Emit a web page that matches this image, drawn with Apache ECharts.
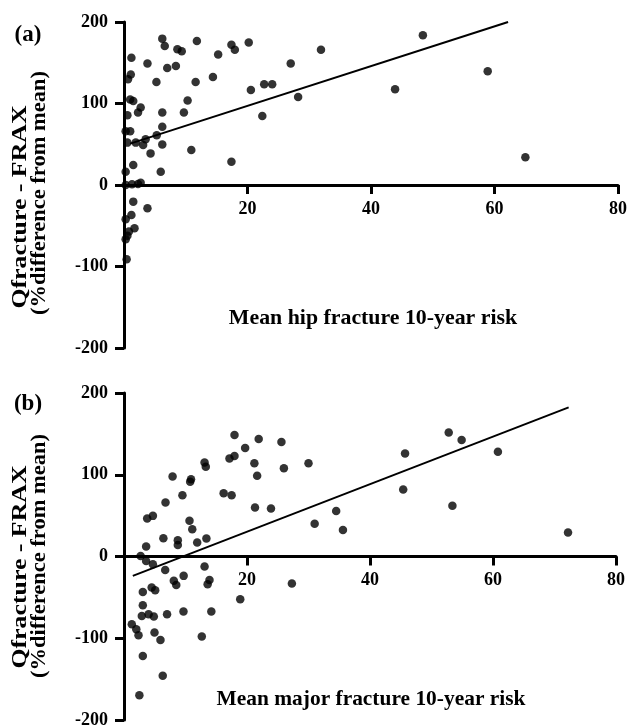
<!DOCTYPE html>
<html>
<head>
<meta charset="utf-8">
<script src="https://cdn.jsdelivr.net/npm/echarts@6/dist/echarts.min.js"></script>
<style>
html, body { margin: 0; padding: 0; background: #fff; }
#main { width: 628px; height: 728px; }
</style>
</head>
<body>
<div id="main"></div>
<script>
// axis ticks (both panels share them)
const xTicks = [0, 20, 40, 60, 80]
const yTicks = [-200, -100, 0, 100, 200]

// (a) hip fracture: mean 10-year risk vs % difference
const hipRisk = [6.2, 6.6, 8.65, 9.35, 11.8, 17.4, 17.95, 20.2, 15.25, 1.2, 3.8, 7, 8.4, 1.1, 0.65, 5.25, 11.6, 14.4, 20.55, 22.7, 24,
    1, 1.5, 2.7, 2.27, 0.55, 6.2, 10.3, 9.7, 22.4, 0.27, 1, 6.2, 5.3, 3.5, 1.9, 0.54, 3.1, 6.2, 4.3, 10.9, 17.4, 1.5, 5.95, 0.27,
    2.27, 2.7, 0.27, 1.3, 1.5, 3.8, 1.2, 0.27, 1.7, 0.8, 0.55, 0.27, 0.43, 27, 28.2, 31.9, 48.4, 43.9, 58.9, 65]
const hipDiff = [179.6, 170.6, 166.5, 164, 176.7, 172, 166, 174.7, 160, 156, 149, 143.6, 146, 135.5, 129.8, 126.5, 126.5, 132.6, 116.7, 123.7, 123.7,
    105, 103, 95, 89, 85.7, 89, 103.7, 89, 84.8, 66, 66, 71.4, 61, 56, 52, 52, 49, 49.8, 38.8, 42.8, 28.5, 24.5, 16.3, 16.3,
    1.2, 2.8, 0, 1, -20.4, -28.6, -36.7, -42, -53, -57, -62.4, -66.5, -91, 149, 108, 166, 183.7, 117.5, 139.6, 34]
const hipFitRisk = [1.0, 62.2]
const hipFitDiff = [50.8, 200]

// (b) major fracture
const majorRisk = [17.97, 21.9, 19.7, 17.15, 17.97, 21.2, 21.65, 13.1, 13.3, 7.9, 10.9, 10.76, 16.2, 17.5, 9.5, 6.75, 21.3, 23.9,
    3.77, 4.7, 10.65, 11.1, 6.4, 8.75, 8.75, 11.9, 13.4, 3.6, 2.7, 3.6, 4.7, 13.1, 6.7, 9.7, 8.1, 8.5, 13.9, 13.6,
    4.5, 5.07, 3.06, 18.9, 3.06, 2.9, 4, 4.85, 7, 9.67, 14.2, 1.27, 2, 2.36, 4.96, 5.93, 12.65, 3.06, 6.3, 2.5,
    25.6, 26, 30, 31, 27.3, 34.5, 35.6, 45.7, 45.4, 52.8, 54.9, 53.4, 60.8, 72.2]
const majorDiff = [148.5, 143.6, 132.6, 120, 123, 114, 98.7, 115, 109.7, 98, 94.6, 91.3, 77.5, 75, 75, 66, 60, 58.7,
    46.5, 49.7, 43.6, 33.4, 22.4, 20, 14.2, 17.1, 22, 12.2, 0.7, -5.4, -9.4, -12.2, -16.5, -23.7, -29.8, -35, -28.6, -33.9,
    -38, -41.2, -43.3, -52.3, -59.6, -72.7, -70.6, -73.4, -70.6, -67.3, -67.3, -82.9, -89, -96.3, -93, -102, -98, -121.7, -146, -169.8,
    140, 108, 114, 40, -33, 55.8, 32.5, 126, 82, 151.7, 142.4, 62, 128, 29.4]
const majorFitRisk = [1.43, 72.3]
const majorFitDiff = [-23.7, 182.4]

const zip = (a, b) => a.map((v, i) => [v, b[i]])
const FONT = 'Liberation Serif'

// x axis sits on y = 0, half way up each grid
function xAxisFor(gridIndex, gridHeight) {
    return {
        type: 'value', gridIndex, position: 'bottom', offset: -gridHeight / 2,
        min: xTicks[0], max: xTicks[xTicks.length - 1], interval: xTicks[1] - xTicks[0],
        splitLine: { show: false },
        axisLine: { show: true, onZero: false, lineStyle: { color: '#000', width: 3 } },
        axisTick: { show: true, length: 9, lineStyle: { color: '#000', width: 3 } },
        axisLabel: { showMinLabel: false, margin: 15, color: '#000', fontFamily: FONT, fontWeight: 'bold', fontSize: 18 }
    }
}

function yAxisFor(gridIndex) {
    return {
        type: 'value', gridIndex, position: 'left',
        min: yTicks[0], max: yTicks[yTicks.length - 1], interval: yTicks[1] - yTicks[0],
        splitLine: { show: false },
        axisLine: { show: true, onZero: false, lineStyle: { color: '#000', width: 3 } },
        axisTick: { show: true, length: 9, lineStyle: { color: '#000', width: 3 } },
        axisLabel: { margin: 16, color: '#000', fontFamily: FONT, fontWeight: 'bold', fontSize: 18 }
    }
}

function label(text, x, y, size, stretch, rotate) {
    return {
        type: 'text', x, y, rotation: rotate ? Math.PI / 2 : 0, scaleX: stretch,
        style: { text, fill: '#000', font: `bold ${size}px "${FONT}"`, textAlign: 'center', textVerticalAlign: 'middle' }
    }
}

// regression line drawn as a markLine between two data coords
function fitLine(xs, ys) {
    return {
        silent: true, symbol: ['none', 'none'], animation: false,
        label: { show: false },
        lineStyle: { color: '#000', width: 2, type: 'solid' },
        data: [[{ coord: [xs[0], ys[0]] }, { coord: [xs[1], ys[1]] }]]
    }
}

const chart = echarts.init(document.getElementById('main'))

chart.setOption({
    animation: false,
    backgroundColor: '#fff',
    grid: [
        { left: 124, top: 22, width: 494, height: 326, outerBoundsMode: 'none' },
        { left: 124, top: 393, width: 492, height: 327, outerBoundsMode: 'none' }
    ],
    xAxis: [xAxisFor(0, 326), xAxisFor(1, 327)],
    yAxis: [yAxisFor(0), yAxisFor(1)],
    graphic: [
        label('(a)', 28, 35, 23, 1),
        label('(b)', 28, 404, 23, 1),
        label('Mean hip fracture 10-year risk', 373, 319, 21, 1.04),
        label('Mean major fracture 10-year risk', 371, 700, 21, 1.02),
        label('Qfracture - FRAX', 20.5, 207, 21, 1.23, true),
        label('(%difference from mean)', 40, 193, 21, 1.07, true),
        label('Qfracture - FRAX', 20.5, 567, 21, 1.23, true),
        label('(%difference from mean)', 40, 556, 21, 1.07, true)
    ],
    series: [
        {
            type: 'scatter', xAxisIndex: 0, yAxisIndex: 0,
            symbolSize: 8.5, itemStyle: { color: '#000' },
            data: zip(hipRisk, hipDiff),
            markLine: fitLine(hipFitRisk, hipFitDiff)
        },
        {
            type: 'scatter', xAxisIndex: 1, yAxisIndex: 1,
            symbolSize: 8.5, itemStyle: { color: '#000' },
            data: zip(majorRisk, majorDiff),
            markLine: fitLine(majorFitRisk, majorFitDiff)
        }
    ]
})
</script>
</body>
</html>
